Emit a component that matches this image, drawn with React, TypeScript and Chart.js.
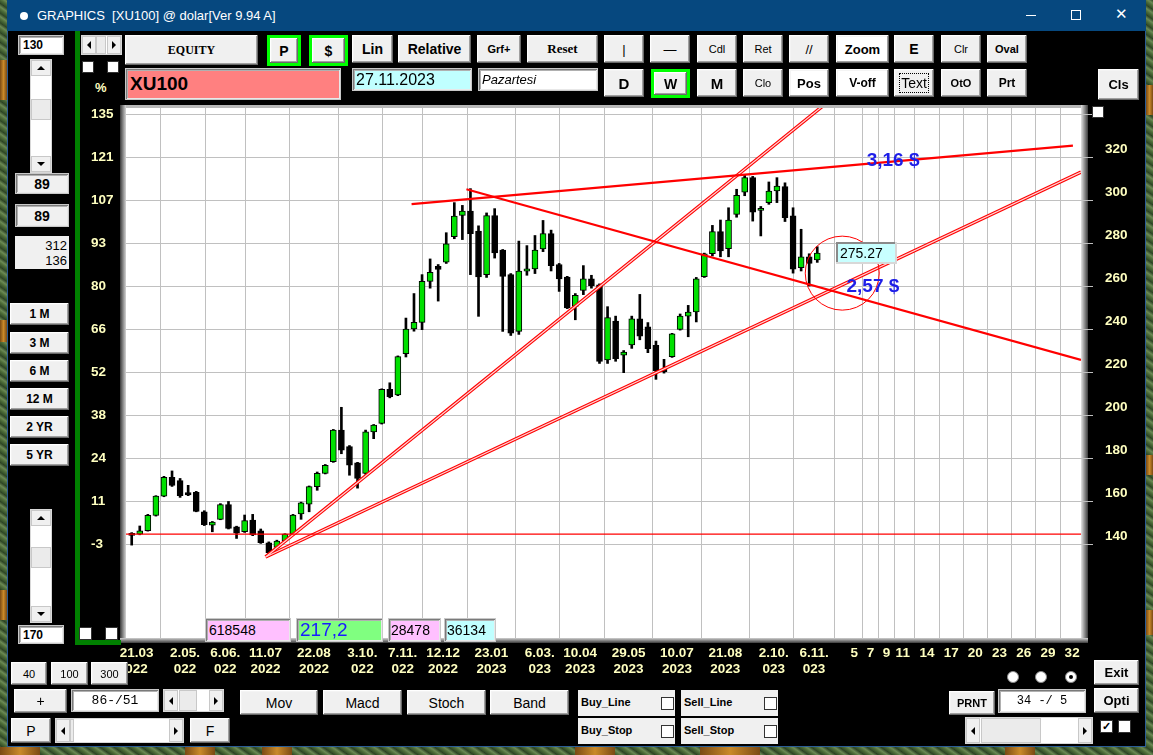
import React, { useEffect, useRef } from "react";
import { Chart, registerables } from "chart.js";

Chart.register(...registerables);

// ---------------- DATA (weekly XU100 in USD, bar index 0..85) ----------------
const opens = [144.6, 144.6, 146.2, 153.3, 162.3, 171.0, 169.5, 163.9, 164.0, 155.0,
  148.8, 151.5, 158.4, 148.0, 145.7, 151.2, 146.2, 140.6, 138.4, 141.5,
  144.6, 154.0, 158.6, 166.7, 172.9, 178.3, 193.0, 185.3, 177.8, 172.9,
  192.2, 196.1, 211.9, 209.3, 228.5, 240.0, 243.1, 262.2, 269.2, 271.1,
  282.9, 292.8, 294.9, 285.5, 265.3, 292.8, 276.7, 265.3, 238.9, 266.9,
  268.0, 277.3, 284.4, 270.0, 264.2, 250.5, 257.9, 263.3, 260.6, 225.6,
  243.7, 227.8, 232.6, 244.8, 241.0, 232.4, 221.2, 227.1, 239.8, 246.0,
  247.9, 264.3, 275.0, 285.3, 277.4, 293.3, 303.7, 310.4, 295.2, 298.8,
  304.2, 306.2, 292.6, 268.5, 273.6, 272.1];
const highs = [145.3, 148.4, 153.8, 162.5, 171.5, 174.0, 170.5, 167.3, 164.5, 155.5,
  150.5, 158.8, 159.8, 148.3, 153.5, 153.8, 147.0, 141.0, 141.8, 144.8,
  153.8, 159.5, 167.0, 173.5, 177.0, 193.3, 203.6, 185.8, 178.0, 193.0,
  195.6, 212.2, 215.0, 227.5, 245.1, 256.5, 265.3, 272.6, 270.0, 284.8,
  298.8, 297.5, 305.3, 288.0, 294.0, 296.0, 277.0, 265.8, 280.9, 278.8,
  283.5, 290.5, 286.0, 270.5, 264.5, 256.5, 269.5, 265.0, 261.0, 250.4,
  246.0, 230.0, 246.0, 256.1, 243.0, 234.4, 225.9, 238.0, 247.0, 251.0,
  264.0, 275.3, 288.2, 290.7, 296.4, 305.0, 311.5, 311.0, 297.0, 308.4,
  310.4, 308.0, 296.4, 286.4, 275.0, 278.3];
const lows = [139.5, 144.3, 146.0, 153.0, 162.0, 166.8, 161.7, 162.5, 155.0, 148.6,
  145.7, 151.3, 147.0, 142.6, 145.4, 143.9, 140.3, 134.5, 138.0, 141.2,
  144.4, 151.5, 155.0, 165.0, 172.6, 178.0, 182.0, 172.0, 166.0, 172.5,
  189.0, 195.8, 208.0, 209.0, 227.0, 239.0, 239.7, 259.0, 253.0, 270.5,
  282.0, 281.6, 265.3, 245.9, 264.0, 273.0, 238.9, 237.0, 237.5, 265.0,
  265.8, 276.0, 267.0, 257.5, 249.5, 244.3, 256.0, 259.0, 224.0, 224.0,
  225.0, 219.7, 231.0, 235.0, 229.0, 216.6, 219.5, 226.8, 239.5, 236.4,
  243.3, 264.0, 274.0, 273.6, 273.6, 292.0, 302.0, 290.2, 283.3, 298.0,
  298.8, 290.0, 266.0, 267.0, 260.0, 271.0];
const closes = [144.0, 146.2, 153.3, 162.3, 171.0, 167.3, 162.5, 162.8, 155.2, 149.0,
  150.2, 158.4, 147.3, 145.0, 150.9, 144.2, 140.6, 136.0, 141.4, 144.6,
  153.5, 159.2, 166.7, 172.9, 176.6, 193.0, 183.7, 176.7, 170.5, 192.2,
  195.3, 211.9, 208.5, 227.2, 240.0, 243.1, 262.2, 266.4, 267.7, 279.6,
  292.5, 294.9, 284.4, 264.2, 292.8, 275.4, 264.5, 238.1, 266.9, 268.0,
  276.7, 284.4, 269.5, 263.3, 249.8, 255.7, 263.3, 260.2, 224.9, 245.3,
  226.2, 229.3, 244.8, 236.7, 230.9, 220.5, 220.2, 237.8, 246.0, 247.9,
  263.4, 275.0, 285.3, 276.3, 290.7, 302.2, 310.4, 294.4, 296.0, 304.2,
  306.5, 291.8, 267.8, 273.6, 270.5, 275.27];

// x-axis ticks (bar index) and their labels
const xTickBars = [0, 6, 11, 16, 22, 28, 33, 38, 44, 50, 55, 61, 67, 73, 79, 84,
  89, 91, 93, 95, 98, 101, 104, 107, 110, 113, 116];
const xTickLabels: (string | string[])[] = [
  ["21.03", "022"], ["2.05.", "022"], ["6.06.", "022"], ["11.07", "2022"], ["22.08", "2022"],
  ["3.10.", "022"], ["7.11.", "022"], ["12.12", "2022"], ["23.01", "2023"], ["6.03.", "023"],
  ["10.04", "2023"], ["29.05", "2023"], ["10.07", "2023"], ["21.08", "2023"], ["2.10.", "023"],
  ["6.11.", "023"], "5", "7", "9", "11", "14", "17", "20", "23", "26", "29", "32"];

// y grid values (USD) with right labels and left (%) labels
const priceTicks = [140, 160, 180, 200, 220, 240, 260, 280, 300, 320, 340];
const priceTickLabels = ["140", "160", "180", "200", "220", "240", "260", "280", "300", "320", ""];
const pctTickLabels = ["-3", "11", "24", "38", "52", "66", "80", "93", "107", "121", "135"];

// drawn trend lines: [bar, price] endpoints
const baseLine = [[-2, 144.65], [120, 144.65]];
const resistanceLine = [[34.7, 298.1], [116.7, 325.3]];
const descendingLine = [[41.5, 305.0], [117.7, 225.6]];
const steepLine = [[16.6, 134.0], [86.6, 346.5]];
const supportLine = [[16.6, 134.0], [117.7, 313.0]];
const circleCenter = [88.1, 266.0];

// text annotations: [bar, price]
const noteLabels = ["3,16 $", "2,57 $"];
const notePositions = [[94.4, 318.1], [91.9, 259.5]];
const lastPrice = 275.27;
const priceBoxBar = 87.3;

// ---------------- styling helpers ----------------
const FONT = '"Liberation Sans", Arial, Helvetica, sans-serif';
const SERIF = '"Liberation Serif", "Times New Roman", serif';
const MONO = '"Liberation Mono", "DejaVu Sans Mono", monospace';
const YELLOW = "#ffffc0";

const bevel = "inset -1px -1px #696969, inset 1px 1px #ffffff, inset -2px -2px #a0a0a0, inset 2px 2px #f4f4f4";
const sunken = "inset 1px 1px #7a7a7a, inset -1px -1px #e8e8e8, inset 2px 2px #b0b0b0";

function Btn(p: any) {
  const { x, y, w, h, label, size = 12, weight = "bold", family = FONT, bg = "#f0f0f0", italic = false, extra = {} } = p;
  return (
    <div style={{
      position: "absolute", left: x, top: y, width: w, height: h, background: bg, boxSizing: "border-box",
      boxShadow: bevel, display: "flex", alignItems: "center", justifyContent: "center",
      fontFamily: family, fontSize: size, fontWeight: weight, fontStyle: italic ? "italic" : "normal",
      color: "#000", whiteSpace: "pre", zIndex: 3, ...extra,
    }}>{label}</div>
  );
}

function GreenBtn(p: any) {
  const { x, y, w, h, label, size = 15 } = p;
  return (
    <div style={{ position: "absolute", left: x, top: y, width: w, height: h, background: "#00ff00", zIndex: 3 }}>
      <Btn x={3} y={3} w={w - 6} h={h - 6} label={label} size={size} />
    </div>
  );
}

function Field(p: any) {
  const { x, y, w, h, text, bg = "#fff", size = 13, weight = "normal", color = "#000", align = "flex-start",
    family = FONT, italic = false, pad = 4 } = p;
  return (
    <div style={{
      position: "absolute", left: x, top: y, width: w, height: h, background: bg, boxSizing: "border-box",
      boxShadow: sunken, border: "1px solid #c8c8c8", display: "flex", alignItems: "center", justifyContent: align,
      padding: `0 ${pad}px`, fontFamily: family, fontSize: size, fontWeight: weight, color,
      fontStyle: italic ? "italic" : "normal", whiteSpace: "pre", zIndex: 3,
    }}>{text}</div>
  );
}

function Check(p: any) {
  const { x, y, s = 12, checked = false } = p;
  return (
    <div style={{
      position: "absolute", left: x, top: y, width: s, height: s, background: "#fff", boxSizing: "border-box",
      border: "1px solid #333", zIndex: 3, fontSize: 11, lineHeight: `${s - 2}px`, textAlign: "center",
      fontFamily: FONT, fontWeight: "bold", color: "#000",
    }}>{checked ? "✓" : ""}</div>
  );
}

function Radio(p: any) {
  const { x, y, on = false } = p;
  return (
    <div style={{
      position: "absolute", left: x, top: y, width: 12, height: 12, borderRadius: 6, background: "#fff",
      boxSizing: "border-box", border: "1px solid #8a8a8a", zIndex: 3, display: "flex", alignItems: "center",
      justifyContent: "center",
    }}>{on ? <div style={{ width: 4, height: 4, borderRadius: 2, background: "#000" }} /> : null}</div>
  );
}

const tri = (dir: string) => {
  const s: any = { width: 0, height: 0 };
  if (dir === "up") Object.assign(s, { borderLeft: "4px solid transparent", borderRight: "4px solid transparent", borderBottom: "4px solid #000" });
  if (dir === "down") Object.assign(s, { borderLeft: "4px solid transparent", borderRight: "4px solid transparent", borderTop: "4px solid #000" });
  if (dir === "left") Object.assign(s, { borderTop: "4px solid transparent", borderBottom: "4px solid transparent", borderRight: "4px solid #000" });
  if (dir === "right") Object.assign(s, { borderTop: "4px solid transparent", borderBottom: "4px solid transparent", borderLeft: "4px solid #000" });
  return <div style={s} />;
};

const cell = (l: number, t: number, w: number, h: number, bg: string, child?: any) => (
  <div style={{
    position: "absolute", left: l, top: t, width: w, height: h, background: bg, boxSizing: "border-box",
    border: "1px solid #c8c8c8", display: "flex", alignItems: "center", justifyContent: "center",
  }}>{child}</div>
);

function VScroll(p: any) {
  const { x, y, w, h, thumbTop, thumbH } = p;
  return (
    <div style={{ position: "absolute", left: x, top: y, width: w, height: h, background: "#fff", zIndex: 3, boxSizing: "border-box", border: "1px solid #d8d8d8" }}>
      {cell(0, 0, w - 2, 16, "#f0f0f0", tri("up"))}
      {cell(0, thumbTop, w - 2, thumbH, "#ebebeb")}
      {cell(0, h - 18, w - 2, 16, "#f0f0f0", tri("down"))}
    </div>
  );
}

function HScroll(p: any) {
  const { x, y, w, h, thumbLeft, thumbW, track = "#fff" } = p;
  return (
    <div style={{ position: "absolute", left: x, top: y, width: w, height: h, background: track, zIndex: 3, boxSizing: "border-box", border: "1px solid #d8d8d8" }}>
      {cell(0, 0, 14, h - 2, "#f0f0f0", tri("left"))}
      {cell(thumbLeft, 0, thumbW, h - 2, "#ebebeb")}
      {cell(w - 16, 0, 14, h - 2, "#f0f0f0", tri("right"))}
    </div>
  );
}

const noPad = (s: any) => { s.paddingTop = 0; s.paddingBottom = 0; s.paddingLeft = 0; s.paddingRight = 0; };

// ---------------- chart ----------------
function XuChart() {
  const ref = useRef<HTMLCanvasElement | null>(null);

  useEffect(() => {
    if (!ref.current) return;
    const idx = opens.map((_, i) => i);
    const up = idx.map((i) => closes[i] >= opens[i]);
    const seg = (pts: number[][]) => pts.map((p) => ({ x: p[0], y: p[1] }));

    const frame = {
      id: "frame",
      beforeDraw(chart: any) {
        const { ctx, chartArea: a } = chart;
        ctx.save();
        let g = ctx.createLinearGradient(a.left - 6, 0, a.left, 0);
        g.addColorStop(0, "#3a3a3a"); g.addColorStop(1, "#d4d4d4");
        ctx.fillStyle = g; ctx.fillRect(a.left - 6, a.top - 3, 6, a.bottom - a.top + 8);
        ctx.fillStyle = "#b8b8b8"; ctx.fillRect(a.left, a.top - 3, a.right - a.left + 7, 3);
        g = ctx.createLinearGradient(a.right, 0, a.right + 7, 0);
        g.addColorStop(0, "#e4e4e4"); g.addColorStop(1, "#3c3c3c");
        ctx.fillStyle = g; ctx.fillRect(a.right, a.top - 3, 7, a.bottom - a.top + 8);
        g = ctx.createLinearGradient(0, a.bottom, 0, a.bottom + 5);
        g.addColorStop(0, "#d0d0d0"); g.addColorStop(1, "#3c3c3c");
        ctx.fillStyle = g; ctx.fillRect(a.left - 6, a.bottom, a.right - a.left + 13, 5);
        ctx.fillStyle = "#ffffff"; ctx.fillRect(a.left, a.top, a.right - a.left, a.bottom - a.top);
        ctx.restore();
      },
      afterDatasetsDraw(chart: any) {
        const { ctx, scales } = chart;
        const xs = scales.x, ys = scales.y;
        ctx.save();
        ctx.font = `bold 19px ${FONT}`;
        ctx.fillStyle = "#1e1ee8";
        ctx.textAlign = "center";
        ctx.textBaseline = "middle";
        noteLabels.forEach((t, i) => {
          ctx.fillText(t, xs.getPixelForValue(notePositions[i][0]), ys.getPixelForValue(notePositions[i][1]));
        });
        const bx = Math.round(xs.getPixelForValue(priceBoxBar));
        const by = Math.round(ys.getPixelForValue(lastPrice));
        ctx.fillStyle = "#c8ffff";
        ctx.fillRect(bx, by - 11, 61, 22);
        ctx.fillStyle = "#8a8a8a";
        ctx.fillRect(bx, by - 11, 61, 2);
        ctx.fillRect(bx, by - 11, 2, 22);
        ctx.fillStyle = "#d8d8d8";
        ctx.fillRect(bx, by + 9, 61, 2);
        ctx.fillRect(bx + 59, by - 11, 2, 22);
        ctx.fillStyle = "#000";
        ctx.font = `14px ${FONT}`;
        ctx.textAlign = "left";
        ctx.fillText(lastPrice.toFixed(2), bx + 4, by + 1);
        ctx.restore();
      },
    };

    const tickFont = { family: FONT, size: 13.5, weight: "bold" as const, lineHeight: 1.2 };
    const yMin = 96.3, yMax = 342.8;

    const chart = new Chart(ref.current, {
      type: "bar",
      data: {
        datasets: [
          { type: "bubble", data: [{ x: circleCenter[0], y: circleCenter[1] }], radius: 37, borderColor: "#ff0000", borderWidth: 1, backgroundColor: "rgba(0,0,0,0)", order: 0 } as any,
          { type: "line", data: seg(baseLine), borderColor: "#ff0000", borderWidth: 1.2, pointRadius: 0, order: 1 } as any,
          { type: "line", data: seg(resistanceLine), borderColor: "#ff0000", borderWidth: 2.2, pointRadius: 0, order: 1 } as any,
          { type: "line", data: seg(descendingLine), borderColor: "#ff0000", borderWidth: 2.2, pointRadius: 0, order: 1 } as any,
          { type: "line", data: seg(steepLine), borderColor: "#ffd8d8", borderWidth: 1.2, pointRadius: 0, order: 1 } as any,
          { type: "line", data: seg(supportLine), borderColor: "#ffd8d8", borderWidth: 1.2, pointRadius: 0, order: 1 } as any,
          { type: "line", data: seg(steepLine), borderColor: "#ff0000", borderWidth: 3.4, pointRadius: 0, order: 2 } as any,
          { type: "line", data: seg(supportLine), borderColor: "#ff0000", borderWidth: 3.4, pointRadius: 0, order: 2 } as any,
          {
            type: "bar", data: idx.map((i) => ({ x: i, y: [opens[i], closes[i]] })),
            backgroundColor: idx.map((i) => (up[i] ? "#00e000" : "#000000")),
            borderColor: "#000000", borderWidth: 1, borderSkipped: false, barThickness: 6, minBarLength: 2,
            grouped: false, order: 3,
          } as any,
          {
            type: "bar", data: idx.map((i) => ({ x: i, y: [lows[i], highs[i]] })),
            backgroundColor: "#000000", borderWidth: 0, barThickness: 2, grouped: false, order: 4,
          } as any,
        ],
      },
      options: {
        animation: false,
        responsive: false,
        maintainAspectRatio: false,
        events: [],
        layout: { autoPadding: false, padding: { left: 11, right: 14, top: 12, bottom: 12 } },
        plugins: { legend: { display: false }, tooltip: { enabled: false } },
        scales: {
          x: {
            type: "linear", min: -0.707, max: 117.7, offset: false,
            afterBuildTicks: (s: any) => { s.ticks = xTickBars.map((b) => ({ value: b + 0.6 })); },
            afterFit: (s: any) => { s.height = 40; noPad(s); },
            grid: { color: "#c0c0c0", lineWidth: 1, drawTicks: false },
            border: { display: false },
            ticks: {
              autoSkip: false, maxRotation: 0, minRotation: 0, padding: 7, color: YELLOW, font: tickFont,
              callback: (_v: any, i: number) => xTickLabels[i],
            },
          },
          y: {
            type: "linear", position: "right", min: yMin, max: yMax,
            afterBuildTicks: (s: any) => { s.ticks = priceTicks.map((v) => ({ value: v })); },
            afterFit: (s: any) => { s.width = 50; noPad(s); },
            grid: { color: "#c0c0c0", lineWidth: 1, tickLength: 12, drawTicks: true, tickColor: "#c0c0c0" },
            border: { display: false },
            ticks: {
              autoSkip: false, color: YELLOW, font: tickFont, padding: 12, labelOffset: -8,
              callback: (_v: any, i: number) => priceTickLabels[i],
            },
          },
          yPct: {
            type: "linear", position: "left", min: yMin, max: yMax,
            afterBuildTicks: (s: any) => { s.ticks = priceTicks.map((v) => ({ value: v })); },
            afterFit: (s: any) => { s.width = 35; noPad(s); },
            grid: { display: false },
            border: { display: false },
            ticks: {
              autoSkip: false, color: YELLOW, font: tickFont, crossAlign: "far", padding: 0,
              callback: (_v: any, i: number) => pctTickLabels[i],
            },
          },
        },
      } as any,
      plugins: [frame],
    });
    return () => chart.destroy();
  }, []);

  return (
    <canvas ref={ref} width={1065} height={594}
      style={{ position: "absolute", left: 80, top: 96, width: 1065, height: 594, zIndex: 1 }} />
  );
}

export default function App() {
  const wood = (l: number, t: number, w: number, h: number) => (
    <div style={{ position: "absolute", left: l, top: t, width: w, height: h, background: "linear-gradient(90deg,#7a4a14,#c98a2a,#7a4a14)" }} />
  );
  return (
    <div style={{
      position: "fixed", left: 0, top: 0, width: 1153, height: 755, overflow: "hidden",
      background: "repeating-linear-gradient(35deg,#2f4a26 0px,#4f6e3a 3px,#6b8a55 5px,#2a4022 8px)",
      fontFamily: FONT,
    }}>
      {wood(0, 60, 7, 40)}{wood(0, 320, 7, 22)}{wood(0, 590, 7, 30)}
      {wood(1146, 85, 7, 30)}{wood(1146, 455, 7, 20)}{wood(1146, 610, 7, 25)}
      {wood(0, 747, 40, 8)}{wood(185, 747, 30, 8)}{wood(262, 747, 30, 8)}{wood(575, 747, 40, 8)}{wood(700, 747, 60, 8)}{wood(1005, 747, 30, 8)}

      {/* window */}
      <div style={{ position: "absolute", left: 7, top: 0, width: 1139, height: 747, background: "#000", boxSizing: "border-box", borderLeft: "1px solid #2b5d96", borderRight: "1px solid #2b5d96", borderBottom: "1px solid #2b5d96" }} />
      {/* title bar */}
      <div style={{ position: "absolute", left: 7, top: 0, width: 1139, height: 31, background: "#06487f", zIndex: 2 }}>
        <div style={{ position: "absolute", left: 13, top: 12, width: 8, height: 8, borderRadius: 4, background: "#fff" }} />
        <div style={{ position: "absolute", left: 30, top: 8, color: "#fff", fontSize: 13, fontFamily: FONT, whiteSpace: "pre" }}>GRAPHICS  [XU100] @ dolar[Ver 9.94 A]</div>
        <div style={{ position: "absolute", left: 1019, top: 15, width: 10, height: 1, background: "#fff" }} />
        <div style={{ position: "absolute", left: 1064, top: 10, width: 10, height: 10, border: "1px solid #fff", boxSizing: "border-box" }} />
        <div style={{ position: "absolute", left: 1108, top: 5, color: "#fff", fontSize: 15, fontFamily: '"DejaVu Sans", sans-serif' }}>✕</div>
      </div>

      {/* left panel */}
      <Field x={18} y={35} w={46} h={20} text="130" size={12} weight="bold" />
      <VScroll x={30} y={59} w={22} h={114} thumbTop={39} thumbH={21} />
      <Field x={15} y={173} w={54} h={21} text="89" bg="#f0f0f0" size={14} weight="bold" align="center" />
      <Field x={15} y={204} w={54} h={23} text="89" bg="#f0f0f0" size={14} weight="bold" align="center" />
      <div style={{ position: "absolute", left: 15, top: 236, width: 54, height: 33, background: "#f0f0f0", zIndex: 3, fontSize: 13, lineHeight: "15px", textAlign: "right", padding: "2px 2px 0 0", boxSizing: "border-box", fontFamily: FONT }}>312<br />136</div>
      <Btn x={10} y={303} w={59} h={22} label="1 M" size={12} />
      <Btn x={10} y={332} w={59} h={22} label="3 M" size={12} />
      <Btn x={10} y={360} w={59} h={22} label="6 M" size={12} />
      <Btn x={10} y={388} w={59} h={22} label="12 M" size={12} />
      <Btn x={10} y={416} w={59} h={22} label="2 YR" size={12} />
      <Btn x={10} y={444} w={59} h={22} label="5 YR" size={12} />
      <VScroll x={30} y={509} w={22} h={114} thumbTop={37} thumbH={21} />
      <Field x={18} y={625} w={46} h={19} text="170" size={12} weight="bold" />

      <div style={{ position: "absolute", left: 75, top: 31, width: 5, height: 614, background: "#008000", zIndex: 2 }} />
      <div style={{ position: "absolute", left: 75, top: 640, width: 46, height: 5, background: "#008000", zIndex: 2 }} />
      <HScroll x={81} y={35} w={41} h={20} thumbLeft={14} thumbW={10} />
      <Check x={82} y={61} />
      <Check x={107} y={61} />
      <div style={{ position: "absolute", left: 95, top: 80, color: YELLOW, fontSize: 13, fontWeight: "bold", fontFamily: FONT, zIndex: 3 }}>%</div>
      <Check x={79} y={627} s={13} />
      <Check x={105} y={627} s={13} />

      {/* top row 1 */}
      <Btn x={125} y={35} w={133} h={30} label="EQUITY" family={SERIF} size={12} />
      <GreenBtn x={267} y={35} w={34} h={31} label="P" size={14} />
      <GreenBtn x={309} y={35} w={39} h={31} label="$" size={14} />
      <Btn x={352} y={35} w={41} h={28} label="Lin" size={14} />
      <Btn x={398} y={35} w={73} h={28} label="Relative" size={14} />
      <Btn x={477} y={35} w={44} h={28} label="Grf+" size={11} />
      <Btn x={527} y={35} w={71} h={28} label="Reset" family={SERIF} size={13} />
      <Btn x={604} y={35} w={40} h={28} label="|" size={13} weight="normal" />
      <Btn x={650} y={35} w={40} h={28} label="—" size={13} weight="normal" />
      <Btn x={697} y={35} w={40} h={28} label="Cdl" size={11} weight="normal" />
      <Btn x={743} y={35} w={40} h={28} label="Ret" size={11} weight="normal" />
      <Btn x={789} y={35} w={40} h={28} label="//" size={13} weight="normal" />
      <Btn x={836} y={35} w={53} h={28} label="Zoom" size={13} bg="#ffffff" />
      <Btn x={894} y={35} w={40} h={28} label="E" size={14} />
      <Btn x={941} y={35} w={40} h={28} label="Clr" size={11} weight="normal" />
      <Btn x={987} y={35} w={40} h={28} label="Oval" size={11} />

      {/* top row 2 */}
      <Field x={125} y={68} w={216} h={32} text="XU100" bg="#ff8080" size={19} weight="bold" />
      <Field x={352} y={68} w={120} h={23} text="27.11.2023" bg="#c0ffff" size={16} pad={3} />
      <Field x={478} y={68} w={120} h={23} text="Pazartesi" bg="#ffffff" size={13} italic pad={3} />
      <Btn x={604} y={69} w={40} h={28} label="D" size={15} />
      <GreenBtn x={651} y={69} w={39} h={29} label="W" size={14} />
      <Btn x={697} y={69} w={40} h={28} label="M" size={15} />
      <Btn x={743} y={69} w={40} h={28} label="Clo" size={11} weight="normal" />
      <Btn x={789} y={69} w={40} h={28} label="Pos" size={13} bg="#ffffff" />
      <Btn x={836} y={69} w={53} h={28} label="V-off" size={12} bg="#ffffff" />
      <Btn x={894} y={69} w={40} h={28} label={<span style={{ border: "1px dotted #000", padding: "1px 1px" }}>Text</span>} size={14} weight="normal" />
      <Btn x={941} y={69} w={40} h={28} label="OtO" size={11} />
      <Btn x={987} y={69} w={40} h={28} label="Prt" size={12} />
      <Btn x={1098} y={69} w={41} h={31} label="Cls" size={13} />
      <Check x={1092} y={106} />

      <XuChart />

      {/* value boxes over the chart bottom */}
      <Field x={205} y={618} w={86} h={24} text="618548" bg="#ffc0ff" size={14} pad={3} />
      <Field x={296} y={618} w={87} h={24} text="217,2" bg="#80ff80" size={19} color="#1a1aff" pad={3} />
      <Field x={388} y={618} w={53} h={24} text="28478" bg="#ffc0ff" size={14} pad={2} />
      <Field x={444} y={618} w={52} h={24} text="36134" bg="#c0ffff" size={14} pad={2} />

      {/* bottom controls */}
      <Btn x={11} y={662} w={36} h={23} label="40" size={11} weight="normal" />
      <Btn x={51} y={662} w={37} h={23} label="100" size={11} weight="normal" />
      <Btn x={91} y={662} w={37} h={23} label="300" size={11} weight="normal" />
      <Btn x={14} y={689} w={53} h={24} label="+" size={14} weight="normal" />
      <Field x={71} y={689} w={88} h={23} text="86-/51" size={13} family={MONO} align="center" />
      <HScroll x={163} y={689} w={61} h={23} thumbLeft={15} thumbW={18} />
      <Btn x={240} y={690} w={78} h={25} label="Mov" size={14} weight="normal" />
      <Btn x={323} y={690} w={79} h={25} label="Macd" size={14} weight="normal" />
      <Btn x={407} y={690} w={79} h={25} label="Stoch" size={14} weight="normal" />
      <Btn x={490} y={690} w={79} h={25} label="Band" size={14} weight="normal" />
      <Btn x={11} y={718} w={40} h={25} label="P" size={14} weight="normal" />
      <HScroll x={55} y={718} w={129} h={25} thumbLeft={14} thumbW={4} />
      <Btn x={190} y={718} w={40} h={25} label="F" size={14} weight="normal" />

      {[["Buy_Line", 578, 690], ["Sell_Line", 681, 690], ["Buy_Stop", 578, 718], ["Sell_Stop", 681, 718]].map(([t, x, y]: any) => (
        <div key={t} style={{ position: "absolute", left: x, top: y, width: 97, height: 26, background: "#f0f0f0", zIndex: 3 }}>
          <div style={{ position: "absolute", left: 3, top: 6, fontSize: 11, fontWeight: "bold", fontFamily: FONT }}>{t}</div>
          <Check x={83} y={7} s={13} />
        </div>
      ))}

      <Radio x={1007} y={671} />
      <Radio x={1035} y={671} />
      <Radio x={1065} y={671} on />
      <Btn x={1094} y={660} w={45} h={25} label="Exit" size={13} />
      <Btn x={1094} y={688} w={45} h={25} label="Opti" size={13} />
      <Btn x={949} y={691} w={46} h={24} label="PRNT" size={11} />
      <Field x={998} y={689} w={88} h={24} text="34 -/ 5" size={12} family={MONO} align="center" />
      <HScroll x={965} y={717} w={128} h={27} thumbLeft={15} thumbW={60} />
      <Check x={1100} y={720} s={13} checked />
      <Check x={1118} y={720} s={13} />
    </div>
  );
}
